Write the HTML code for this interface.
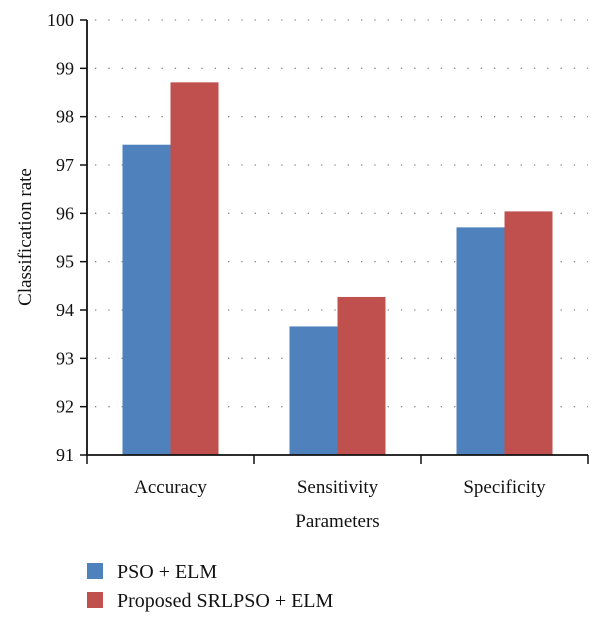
<!DOCTYPE html>
<html><head><meta charset="utf-8"><style>
body{margin:0;background:#fff;}
svg text{font-family:"Liberation Serif",serif;fill:#111;}
</style></head><body>
<svg id="chart" width="600" height="617" xmlns="http://www.w3.org/2000/svg"></svg>
<script>
const categories=["Accuracy","Sensitivity","Specificity"];
const psoValues=[97.42,93.66,95.71];
const srlpsoValues=[98.71,94.27,96.04];
const yTicks=[91,92,93,94,95,96,97,98,99,100];
const svg=document.getElementById('chart');
const NS='http://www.w3.org/2000/svg';
const x0=87,x1=588,yTop=20,yBot=455,yMin=91,yMax=100;
const y=v=>yBot-(v-yMin)/(yMax-yMin)*(yBot-yTop);
const bw=(x1-x0)/categories.length;
const xc=i=>x0+bw*(i+0.5);
function mk(t,a,txt){const e=document.createElementNS(NS,t);for(const k in a)e.setAttribute(k,a[k]);if(txt!==undefined)e.textContent=txt;svg.appendChild(e);return e;}
yTicks.forEach(v=>{
  if(v>yMin){const g=mk('line',{x1:x0+8,x2:x1,y1:y(v),y2:y(v),stroke:'#888','stroke-width':1.3,'stroke-dasharray':'1.3 12'});
  
  }
  const t=mk('line',{x1:x0-7,x2:x0,y1:y(v),y2:y(v),stroke:'#111','stroke-width':1.5});
  
  
  const l=mk('text',{x:x0-13,y:y(v)+6,'text-anchor':'end','font-size':18},v);
  
  
});
categories.forEach((c,i)=>{
  const b1=mk('rect',{x:xc(i)-48,y:y(psoValues[i]),width:48,height:yBot-y(psoValues[i]),fill:'#4f81bd'});
  
  
  const b2=mk('rect',{x:xc(i),y:y(srlpsoValues[i]),width:48,height:yBot-y(srlpsoValues[i]),fill:'#c0504d'});
  
  
  const l=mk('text',{x:xc(i),y:yBot+38,'text-anchor':'middle','font-size':19},c);
  
  
});
for(let i=0;i<=categories.length;i++){
  const t=mk('line',{x1:x0+bw*i,x2:x0+bw*i,y1:yBot,y2:yBot+9,stroke:'#111','stroke-width':1.5});
  
  
}
const ya=mk('line',{x1:x0,x2:x0,y1:yTop,y2:yBot,stroke:'#111','stroke-width':1.8});


const xa=mk('line',{x1:x0,x2:x1,y1:yBot,y2:yBot,stroke:'#111','stroke-width':1.8});


const xt=mk('text',{x:(x0+x1)/2,y:527,'text-anchor':'middle','font-size':19},'Parameters');


const yt=mk('text',{x:0,y:0,'text-anchor':'middle','font-size':19,transform:'translate(31,237) rotate(-90)'},'Classification rate');


[['PSO + ELM','#4f81bd',563],['Proposed SRLPSO + ELM','#c0504d',592]].forEach(([n,col,yy])=>{
  const s=mk('rect',{x:87,y:yy,width:16,height:16,fill:col});
  
  
  const t=mk('text',{x:117,y:yy+15,'font-size':20},n);
  
  
});
</script>
</body></html>
